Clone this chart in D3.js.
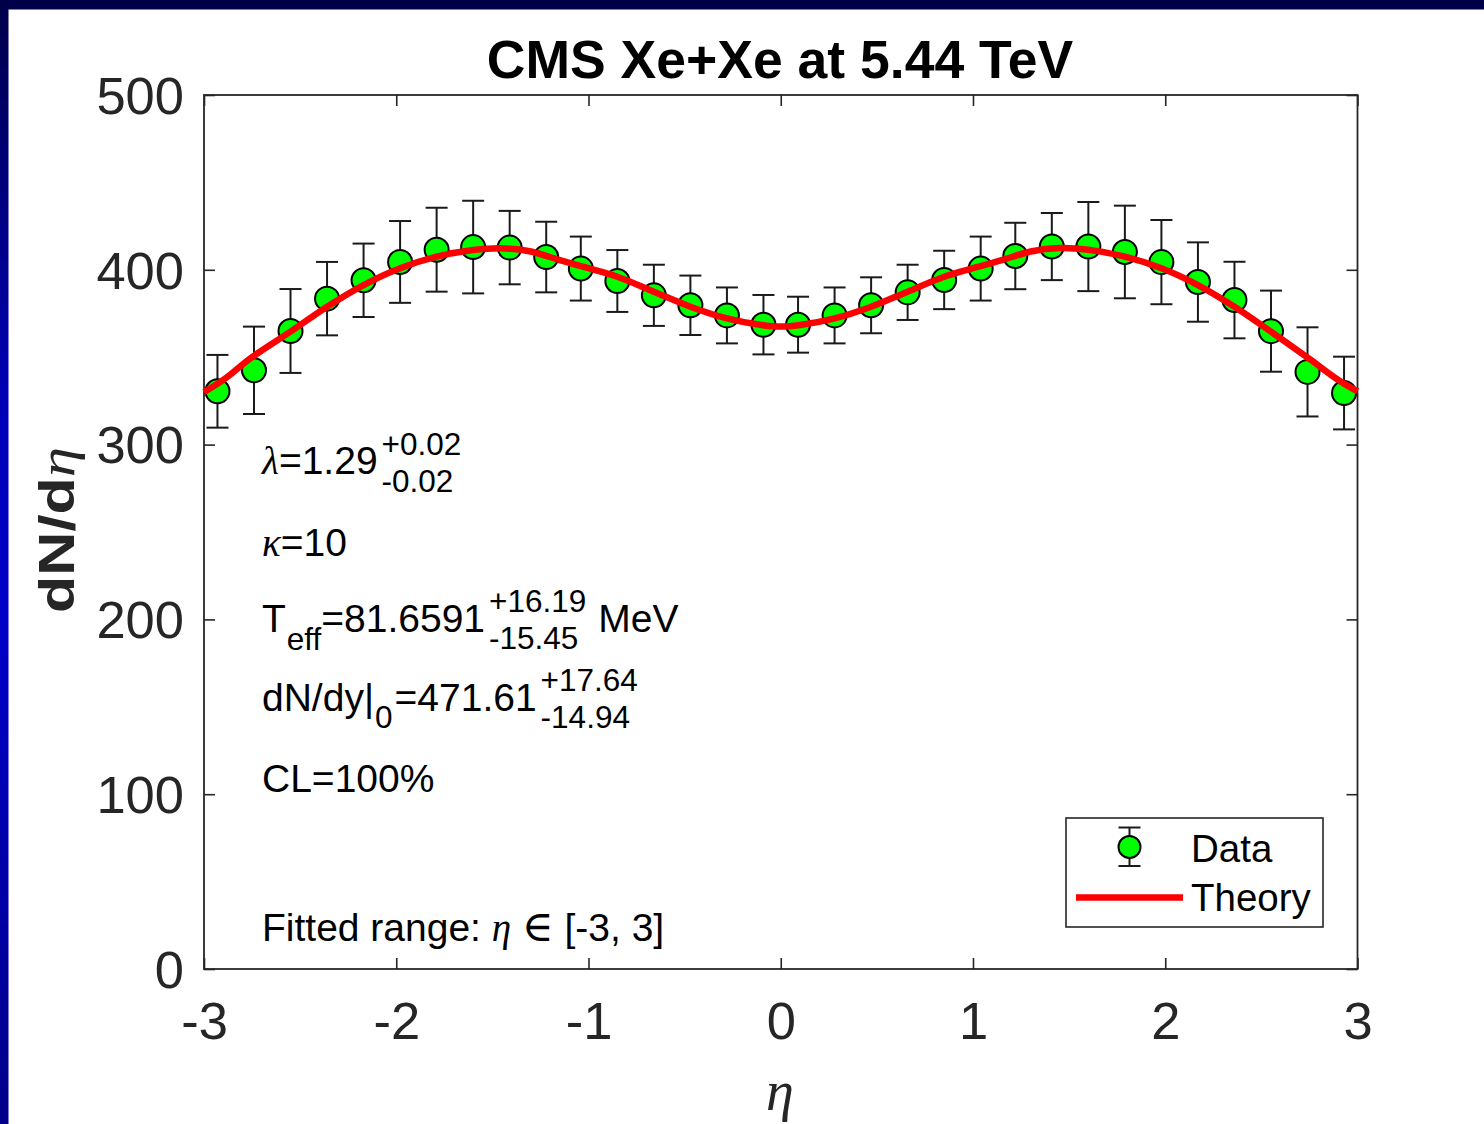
<!DOCTYPE html>
<html>
<head>
<meta charset="utf-8">
<script src="https://cdn.jsdelivr.net/npm/d3@7"></script>
<style>
  html, body { margin: 0; padding: 0; background: #fff; }
  svg { display: block; }
</style>
</head>
<body>
<svg id="chart" width="1484" height="1124"></svg>
<script>
// Pseudorapidity of each measured bin centre
const eta = [-2.93, -2.74, -2.55, -2.36, -2.17, -1.98, -1.79, -1.60, -1.41, -1.22, -1.04, -0.85, -0.66, -0.47, -0.28, -0.09,
              0.09,  0.28,  0.47,  0.66,  0.85,  1.04,  1.22,  1.41,  1.60,  1.79,  1.98,  2.17,  2.36,  2.55,  2.74,  2.93];
// Measured dN/deta
const dndeta = [330.5, 342.5, 365.0, 383.5, 394.0, 404.5, 411.5, 413.0, 412.7, 407.3, 400.7, 393.6, 385.4, 379.7, 373.9, 368.6,
                368.6, 373.9, 379.7, 387.1, 394.2, 400.7, 407.9, 413.3, 413.3, 410.2, 404.4, 393.0, 382.7, 364.9, 341.6, 329.5];
// Uncertainty on each point
const dndetaErr = [20.8, 25.0, 24.0, 21.0, 21.0, 23.4, 24.0, 26.5, 21.0, 20.2, 18.3, 17.7, 17.5, 17.0, 16.0, 17.0,
                   16.0, 16.0, 16.0, 15.8, 16.7, 18.3, 19.0, 19.2, 25.5, 26.5, 24.1, 22.7, 21.9, 23.2, 25.5, 20.8];

// Fitted model curve, sampled in eta
const theoryEta = [-3.0, -2.9, -2.75, -2.55, -2.36, -2.17, -1.98, -1.79, -1.60, -1.45, -1.30, -1.15, -1.00, -0.85, -0.66, -0.47, -0.28, -0.10, 0.0,
                    0.10, 0.28, 0.47, 0.66, 0.85, 1.00, 1.15, 1.30, 1.45, 1.60, 1.79, 1.98, 2.17, 2.36, 2.55, 2.75, 2.9, 3.0];
const theoryVal = [330.0, 337.0, 350.0, 364.6, 378.9, 391.3, 400.9, 407.5, 411.3, 412.3, 410.5, 405.5, 400.9, 396.0, 387.5, 378.9, 372.2, 368.4, 367.5,
                   368.4, 372.2, 378.9, 387.5, 396.0, 400.9, 405.5, 410.5, 412.5, 411.5, 407.5, 400.9, 391.3, 378.9, 364.6, 349.0, 337.0, 330.5];

const xTicks = [-3, -2, -1, 0, 1, 2, 3];
const yTicks = [0, 100, 200, 300, 400, 500];

const svg = d3.select('#chart');
const W = 1484, H = 1124;
const plotLeft = 204, plotRight = 1357.5, plotTop = 95, plotBottom = 969;

// Frame bands
const defs = svg.append('defs');
const grad = defs.append('linearGradient').attr('id', 'sideBand').attr('x1', 0).attr('y1', 0).attr('x2', 0).attr('y2', 1);
grad.append('stop').attr('offset', '0%').attr('stop-color', '#00004a');
grad.append('stop').attr('offset', '35%').attr('stop-color', '#0000b4');
grad.append('stop').attr('offset', '55%').attr('stop-color', '#0000c8');
grad.append('stop').attr('offset', '100%').attr('stop-color', '#00008a');
svg.append('rect').attr('x', 0).attr('y', 0).attr('width', W).attr('height', H).attr('fill', '#fff');
svg.append('rect').attr('x', 0).attr('y', 0).attr('width', 8.5).attr('height', H).attr('fill', 'url(#sideBand)');
svg.append('rect').attr('x', 0).attr('y', 0).attr('width', W).attr('height', 9.5).attr('fill', '#00004a');

const x = d3.scaleLinear().domain([-3, 3]).range([plotLeft, plotRight]);
const y = d3.scaleLinear().domain([0, 500]).range([plotBottom, plotTop]);

const axisColor = '#262626';
const font = "'Liberation Sans', Arial, Helvetica, sans-serif";
const serif = "'Liberation Serif', 'DejaVu Serif', serif";

// Axes: ticks drawn inward on all four sides
const tickLen = 11;
const gx = svg.append('g').attr('transform', `translate(0,${plotBottom})`)
  .call(d3.axisBottom(x).tickValues(xTicks).tickSizeInner(-tickLen).tickSizeOuter(0).tickPadding(34)
        .tickFormat(d => d < 0 ? '-' + Math.abs(d) : String(d)));
const gxTop = svg.append('g').attr('transform', `translate(0,${plotTop})`)
  .call(d3.axisTop(x).tickValues(xTicks).tickSizeInner(-tickLen).tickSizeOuter(0).tickFormat(''));
const gy = svg.append('g').attr('transform', `translate(${plotLeft},0)`)
  .call(d3.axisLeft(y).tickValues(yTicks).tickSizeInner(-tickLen).tickSizeOuter(0).tickPadding(20));
const gyRight = svg.append('g').attr('transform', `translate(${plotRight},0)`)
  .call(d3.axisRight(y).tickValues(yTicks).tickSizeInner(-tickLen).tickSizeOuter(0).tickFormat(''));

[gx, gxTop, gy, gyRight].forEach(g => {
  g.select('.domain').remove();
  g.selectAll('.tick line').attr('stroke', axisColor).attr('stroke-width', 1.6);
  g.selectAll('.tick text').attr('fill', axisColor).attr('font-family', font).attr('font-size', 52.5);
});
gx.selectAll('.tick text').attr('dy', '0.69em');
gy.selectAll('.tick text').attr('dy', '0.35em');

svg.append('rect').attr('x', plotLeft).attr('y', plotTop).attr('width', plotRight - plotLeft).attr('height', plotBottom - plotTop)
  .attr('fill', 'none').attr('stroke', axisColor).attr('stroke-width', 1.8);

// Title and axis labels
svg.append('text').attr('x', 780).attr('y', 78).attr('text-anchor', 'middle')
  .attr('font-family', font).attr('font-weight', 'bold').attr('font-size', 53.5).attr('fill', '#000')
  .text('CMS Xe+Xe at 5.44 TeV');

svg.append('text').attr('x', 780).attr('y', 1110).attr('text-anchor', 'middle')
  .attr('font-family', serif).attr('font-style', 'italic').attr('font-size', 56).attr('fill', axisColor)
  .text('η');

const yl = svg.append('text').attr('transform', 'translate(74,530) rotate(-90)').attr('text-anchor', 'middle')
  .attr('font-family', font).attr('font-weight', 'bold').attr('font-size', 50).attr('fill', axisColor)
  .attr('textLength', 166).attr('lengthAdjust', 'spacingAndGlyphs');
yl.append('tspan').text('dN/d');
yl.append('tspan').attr('font-family', serif).attr('font-style', 'italic').attr('font-weight', 'normal').text('η');

// Data: error bars, markers, then the fitted curve on top
const data = eta.map((e, i) => ({ e, v: dndeta[i], err: dndetaErr[i] }));
const capHalf = 11;
const eb = svg.append('g').attr('stroke', '#1a1a1a').attr('stroke-width', 2);
data.forEach(d => {
  const g = eb.append('g');
  g.append('line').attr('x1', x(d.e)).attr('x2', x(d.e)).attr('y1', y(d.v - d.err)).attr('y2', y(d.v + d.err));
  g.append('line').attr('x1', x(d.e) - capHalf).attr('x2', x(d.e) + capHalf).attr('y1', y(d.v + d.err)).attr('y2', y(d.v + d.err));
  g.append('line').attr('x1', x(d.e) - capHalf).attr('x2', x(d.e) + capHalf).attr('y1', y(d.v - d.err)).attr('y2', y(d.v - d.err));
});
svg.append('g').selectAll('circle').data(data).join('circle')
  .attr('cx', d => x(d.e)).attr('cy', d => y(d.v)).attr('r', 12)
  .attr('fill', '#00ff00').attr('stroke', '#000').attr('stroke-width', 2);

const theory = theoryEta.map((e, i) => [e, theoryVal[i]]);
svg.append('path').datum(theory)
  .attr('d', d3.line().x(d => x(d[0])).y(d => y(d[1])).curve(d3.curveCatmullRom.alpha(0.5)))
  .attr('fill', 'none').attr('stroke', '#ff0000').attr('stroke-width', 6.5).attr('stroke-linecap', 'butt');

// Fit parameter annotations
const ann = svg.append('g').attr('font-family', font).attr('fill', '#000');
const mainSize = 39, scriptSize = 31.5;

function mainText(xp, yp, parts) {
  const t = ann.append('text').attr('x', xp).attr('y', yp).attr('font-size', mainSize);
  parts.forEach(p => {
    const s = t.append('tspan').text(p.t);
    if (p.greek) s.attr('font-family', serif).attr('font-style', 'italic');
    if (p.sym) s.attr('font-family', serif).attr('font-size', mainSize * 1.1);
  });
  return xp + t.node().getComputedTextLength();
}
function scriptText(xp, yp, str) {
  const t = ann.append('text').attr('x', xp).attr('y', yp).attr('font-size', scriptSize).text(str);
  return xp + t.node().getComputedTextLength();
}
function supSub(xp, yBase, sup, sub) {
  const a = scriptText(xp, yBase - 19, sup);
  const b = scriptText(xp, yBase + 18, sub);
  return Math.max(a, b);
}

// lambda
let cx = mainText(262, 474, [{ t: 'λ', greek: true }, { t: '=1.29' }]);
supSub(cx + 4, 474, '+0.02', '-0.02');

// kappa
mainText(262, 556, [{ t: 'κ', greek: true }, { t: '=10' }]);

// effective temperature
cx = mainText(262, 632, [{ t: 'T' }]);
cx = scriptText(cx + 1, 650, 'eff');
cx = mainText(cx, 632, [{ t: '=81.6591' }]);
cx = supSub(cx + 4, 631, '+16.19', '-15.45');
mainText(cx + 12, 632, [{ t: 'MeV' }]);

// rapidity density at y = 0
cx = mainText(262, 711, [{ t: 'dN/dy|' }]);
cx = scriptText(cx + 1, 728, '0');
cx = mainText(cx + 2, 711, [{ t: '=471.61' }]);
supSub(cx + 4, 710, '+17.64', '-14.94');

mainText(262, 792, [{ t: 'CL=100%' }]);
mainText(262, 941, [{ t: 'Fitted range: ' }, { t: 'η', greek: true }, { t: ' ∈', sym: true }, { t: ' [-3, 3]' }]);

// Legend
const lg = svg.append('g');
lg.append('rect').attr('x', 1066).attr('y', 818).attr('width', 257).attr('height', 109)
  .attr('fill', '#fff').attr('stroke', axisColor).attr('stroke-width', 1.6);
lg.append('line').attr('x1', 1129.5).attr('x2', 1129.5).attr('y1', 827.5).attr('y2', 866).attr('stroke', '#1a1a1a').attr('stroke-width', 2);
lg.append('line').attr('x1', 1118.5).attr('x2', 1140.5).attr('y1', 827.5).attr('y2', 827.5).attr('stroke', '#1a1a1a').attr('stroke-width', 2);
lg.append('line').attr('x1', 1118.5).attr('x2', 1140.5).attr('y1', 866).attr('y2', 866).attr('stroke', '#1a1a1a').attr('stroke-width', 2);
lg.append('circle').attr('cx', 1129.5).attr('cy', 847).attr('r', 11).attr('fill', '#00ff00').attr('stroke', '#000').attr('stroke-width', 2);
lg.append('line').attr('x1', 1076).attr('x2', 1183).attr('y1', 897.5).attr('y2', 897.5).attr('stroke', '#ff0000').attr('stroke-width', 6.5);
lg.append('text').attr('x', 1191).attr('y', 862).attr('font-family', font).attr('font-size', 38.5).attr('fill', '#000').text('Data');
lg.append('text').attr('x', 1191).attr('y', 911).attr('font-family', font).attr('font-size', 38.5).attr('fill', '#000').text('Theory');
</script>
</body>
</html>
